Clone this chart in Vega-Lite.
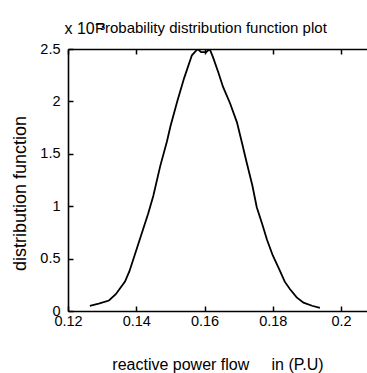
{
  "$schema": "https://vega.github.io/schema/vega-lite/v6.json",
  "autosize": {"type": "none"},
  "width": 299,
  "height": 262,
  "padding": {"left": 68, "top": 49, "right": 0, "bottom": 62},
  "background": "white",
  "config": {
    "view": {"stroke": null},
    "font": "Liberation Sans",
    "axis": {"grid": false, "domainColor": "black", "tickColor": "black", "labelColor": "black", "titleColor": "black", "domainWidth": 1.6, "tickWidth": 1.5, "labelFontSize": 14.5, "titleFontSize": 16, "titleFontWeight": "normal"}
  },
  "title": {"text": "Probability distribution function plot", "anchor": "start", "frame": "group", "dx": 27, "offset": -16, "fontSize": 15, "fontWeight": "normal", "color": "black"},
  "data": {"values": [
    {"x": 0.1264, "y": 0.05},
    {"x": 0.129, "y": 0.07},
    {"x": 0.132, "y": 0.10},
    {"x": 0.134, "y": 0.16},
    {"x": 0.1367, "y": 0.28},
    {"x": 0.138, "y": 0.38},
    {"x": 0.140, "y": 0.58},
    {"x": 0.142, "y": 0.78},
    {"x": 0.1435, "y": 0.93},
    {"x": 0.145, "y": 1.10},
    {"x": 0.147, "y": 1.38},
    {"x": 0.149, "y": 1.62},
    {"x": 0.150, "y": 1.76},
    {"x": 0.152, "y": 2.00},
    {"x": 0.154, "y": 2.22},
    {"x": 0.1563, "y": 2.44},
    {"x": 0.158, "y": 2.50},
    {"x": 0.159, "y": 2.47},
    {"x": 0.1605, "y": 2.47},
    {"x": 0.1615, "y": 2.50},
    {"x": 0.1625, "y": 2.42},
    {"x": 0.164, "y": 2.28},
    {"x": 0.1654, "y": 2.14},
    {"x": 0.1675, "y": 1.98},
    {"x": 0.1695, "y": 1.80},
    {"x": 0.171, "y": 1.60},
    {"x": 0.1724, "y": 1.41},
    {"x": 0.174, "y": 1.20},
    {"x": 0.1753, "y": 0.99},
    {"x": 0.1768, "y": 0.84},
    {"x": 0.1783, "y": 0.68},
    {"x": 0.180, "y": 0.53},
    {"x": 0.182, "y": 0.39},
    {"x": 0.1835, "y": 0.28},
    {"x": 0.185, "y": 0.21},
    {"x": 0.187, "y": 0.13},
    {"x": 0.189, "y": 0.08},
    {"x": 0.1915, "y": 0.05},
    {"x": 0.1938, "y": 0.03}
  ]},
  "layer": [
    {
      "mark": {"type": "line", "color": "black", "strokeWidth": 1.8, "clip": true},
      "encoding": {
        "x": {"field": "x", "type": "quantitative", "scale": {"domain": [0.12, 0.2076], "nice": false, "zero": false},
              "axis": {"orient": "bottom", "values": [0.12, 0.14, 0.16, 0.18, 0.2], "tickSize": -5, "labelPadding": 8, "labelExpr": "toString(datum.value)", "title": "reactive power flow\u00a0\u00a0\u00a0\u00a0 in (P.U)", "titlePadding": 29, "labelFlush": false}},
        "y": {"field": "y", "type": "quantitative", "scale": {"domain": [0, 2.5], "nice": false},
              "axis": {"orient": "left", "values": [0, 0.5, 1, 1.5, 2, 2.5], "tickSize": -5, "labelPadding": 13, "labelExpr": "toString(datum.value)", "title": "distribution function", "titleFontSize": 18, "titlePadding": 10, "titleY": 144}}
      }
    },
    {
      "mark": {"type": "line", "opacity": 0},
      "encoding": {
        "x": {"field": "x", "type": "quantitative",
              "axis": {"orient": "top", "values": [0.12, 0.14, 0.16, 0.18, 0.2], "tickSize": -5, "labels": false, "title": "x 10\u207b\u00b3", "titleFontSize": 16, "titleAnchor": "start", "titleAlign": "left", "titleX": -4, "titleY": -16, "titleBaseline": "alphabetic"}},
        "y": {"field": "y", "type": "quantitative"}
      }
    }
  ],
  "resolve": {"axis": {"x": "independent"}}
}
